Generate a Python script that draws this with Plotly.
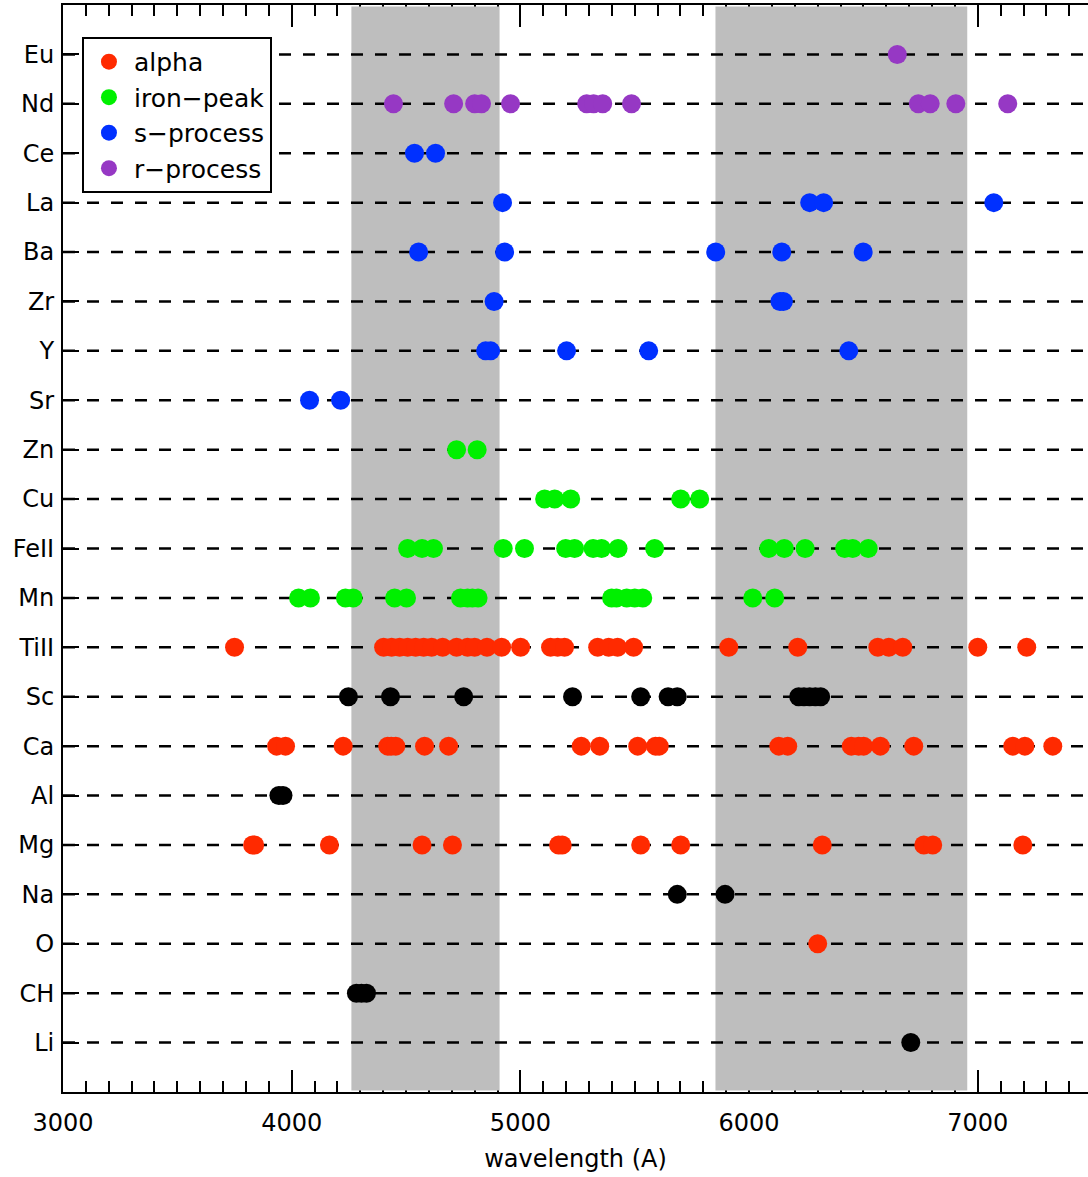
import plotly.graph_objects as go

# element rows, bottom (0) to top (20)
elements = ["Li", "CH", "O", "Na", "Mg", "Al", "Ca", "Sc", "TiII", "Mn", "FeII",
            "Cu", "Zn", "Sr", "Y", "Zr", "Ba", "La", "Ce", "Nd", "Eu"]

# wavelengths (Angstrom) of lines, per element
Eu = [6648]
Nd = [4445, 4708, 4800, 4830, 4957, 5290, 5320, 5360, 5486, 6740, 6792, 6904, 7131]
Ce = [4537, 4629]
La = [4922, 6265, 6326, 7070]
Ba = [4555, 4931, 5854, 6143, 6499]
Zr = [4885, 6135, 6150]
Y = [4848, 4870, 5202, 5561, 6436]
Sr = [4078, 4214]
Zn = [4721, 4811]
Cu = [5106, 5150, 5220, 5701, 5784]
FeII = [4507, 4570, 4620, 4925, 5018, 5198, 5237, 5318, 5355, 5427, 5587,
        6086, 6154, 6245, 6418, 6453, 6521]
Mn = [4030, 4082, 4235, 4269, 4450, 4502, 4738, 4769, 4790, 4815,
      5399, 5420, 5465, 5500, 5535, 6016, 6112]
TiII = [3750, 4402, 4437, 4472, 4507, 4542, 4577, 4612, 4660, 4721, 4769, 4800,
        4854, 4918, 5001, 5132, 5163, 5193, 5338, 5386, 5425, 5495, 5911, 6213,
        6563, 6611, 6672, 7000, 7214]
Sc = [4248, 4432, 4752, 5228, 5526, 5646, 5686, 6217, 6240, 6265, 6290, 6313]
Ca = [3934, 3973, 4225, 4420, 4435, 4455, 4581, 4686, 5266, 5347, 5513, 5591,
      5607, 6130, 6169, 6447, 6479, 6501, 6574, 6720, 7153, 7206, 7328]
Al = [3944, 3962]
Mg = [3829, 3838, 4165, 4570, 4703, 5167, 5183, 5526, 5701, 6320, 6764, 6803, 7197]
Na = [5686, 5895]
O = [6300]
CH = [4283, 4305, 4327]
Li = [6707]

line_lists = {"Li": Li, "CH": CH, "O": O, "Na": Na, "Mg": Mg, "Al": Al, "Ca": Ca,
              "Sc": Sc, "TiII": TiII, "Mn": Mn, "FeII": FeII, "Cu": Cu, "Zn": Zn,
              "Sr": Sr, "Y": Y, "Zr": Zr, "Ba": Ba, "La": La, "Ce": Ce, "Nd": Nd, "Eu": Eu}

groups = ["alpha", "iron\u2212peak", "s\u2212process", "r\u2212process", "other"]
group_members = {
    "alpha": ["O", "Mg", "Ca", "TiII"],
    "iron\u2212peak": ["Mn", "FeII", "Cu", "Zn"],
    "s\u2212process": ["Sr", "Y", "Zr", "Ba", "La", "Ce"],
    "r\u2212process": ["Nd", "Eu"],
    "other": ["Li", "CH", "Na", "Al", "Sc"],
}
group_colors = {"alpha": "#FF2A00", "iron\u2212peak": "#00F000",
                "s\u2212process": "#0030FF", "r\u2212process": "#9638C4",
                "other": "#000000"}

# shaded wavelength windows
bands = [(4261, 4909), (5853, 6954)]

X_RANGE = [3000, 7482]
Y_RANGE = [-1, 21]

FONT = "DejaVu Sans, Verdana, sans-serif"

fig = go.Figure()

# gray windows (drawn first, under the dashed rows and the points, over axis ticks)
for x0, x1 in bands:
    fig.add_trace(go.Scatter(
        x=[x0, x1, x1, x0, x0],
        y=[Y_RANGE[0] + 0.03, Y_RANGE[0] + 0.03, Y_RANGE[1] - 0.03, Y_RANGE[1] - 0.03, Y_RANGE[0] + 0.03],
        mode="lines", fill="toself", fillcolor="#BEBEBE", line=dict(width=0),
        hoverinfo="skip", showlegend=False,
    ))

# dashed row lines
lx, ly = [], []
for i in range(len(elements)):
    lx += [X_RANGE[0], X_RANGE[1], None]
    ly += [i, i, None]
fig.add_trace(go.Scatter(
    x=lx, y=ly, mode="lines",
    line=dict(color="black", width=2.5, dash="12px,12px"),
    hoverinfo="skip", showlegend=False,
))

for g in groups:
    xs, ys = [], []
    for el in group_members[g]:
        for w in line_lists[el]:
            xs.append(w)
            ys.append(elements.index(el))
    fig.add_trace(go.Scatter(
        x=xs, y=ys, mode="markers", name=g,
        marker=dict(color=group_colors[g], size=19, line=dict(width=0)),
        showlegend=(g != "other"),
    ))

fig.update_layout(
    width=1088, height=1177,
    margin=dict(l=63, r=0, t=5, b=85, autoexpand=False),
    paper_bgcolor="white", plot_bgcolor="white",
    font=dict(family=FONT, size=24, color="black"),
    legend=dict(x=0.0185, y=0.9706, xanchor="left", yanchor="top",
                bgcolor="white", bordercolor="black", borderwidth=2,
                font=dict(size=25), itemsizing="trace", itemwidth=40,
                tracegroupgap=0),
)
fig.update_xaxes(
    range=X_RANGE, showgrid=False, zeroline=False, automargin=False,
    showline=True, linecolor="black", linewidth=2, mirror="ticks",
    layer="below traces",
    ticks="inside", ticklen=22, tickwidth=2, tickcolor="black", dtick=1000,
    tickfont=dict(size=24), ticklabelstandoff=8,
    minor=dict(ticks="inside", ticklen=11, tickwidth=2, tickcolor="black", dtick=100),
    title=dict(text="wavelength (A)", font=dict(size=24), standoff=14),
)
fig.update_yaxes(
    range=Y_RANGE, tickvals=list(range(len(elements))), ticktext=elements,
    showline=True, linecolor="black", linewidth=2, mirror=False, automargin=False,
    layer="below traces",
    ticks="inside", ticklen=16, tickwidth=2, tickcolor="black",
    showgrid=False, zeroline=False, tickfont=dict(size=24), ticklabelstandoff=2,
)

fig.write_html("out.html", config={"displayModeBar": False},
               post_script="document.body.style.margin='0px';")
